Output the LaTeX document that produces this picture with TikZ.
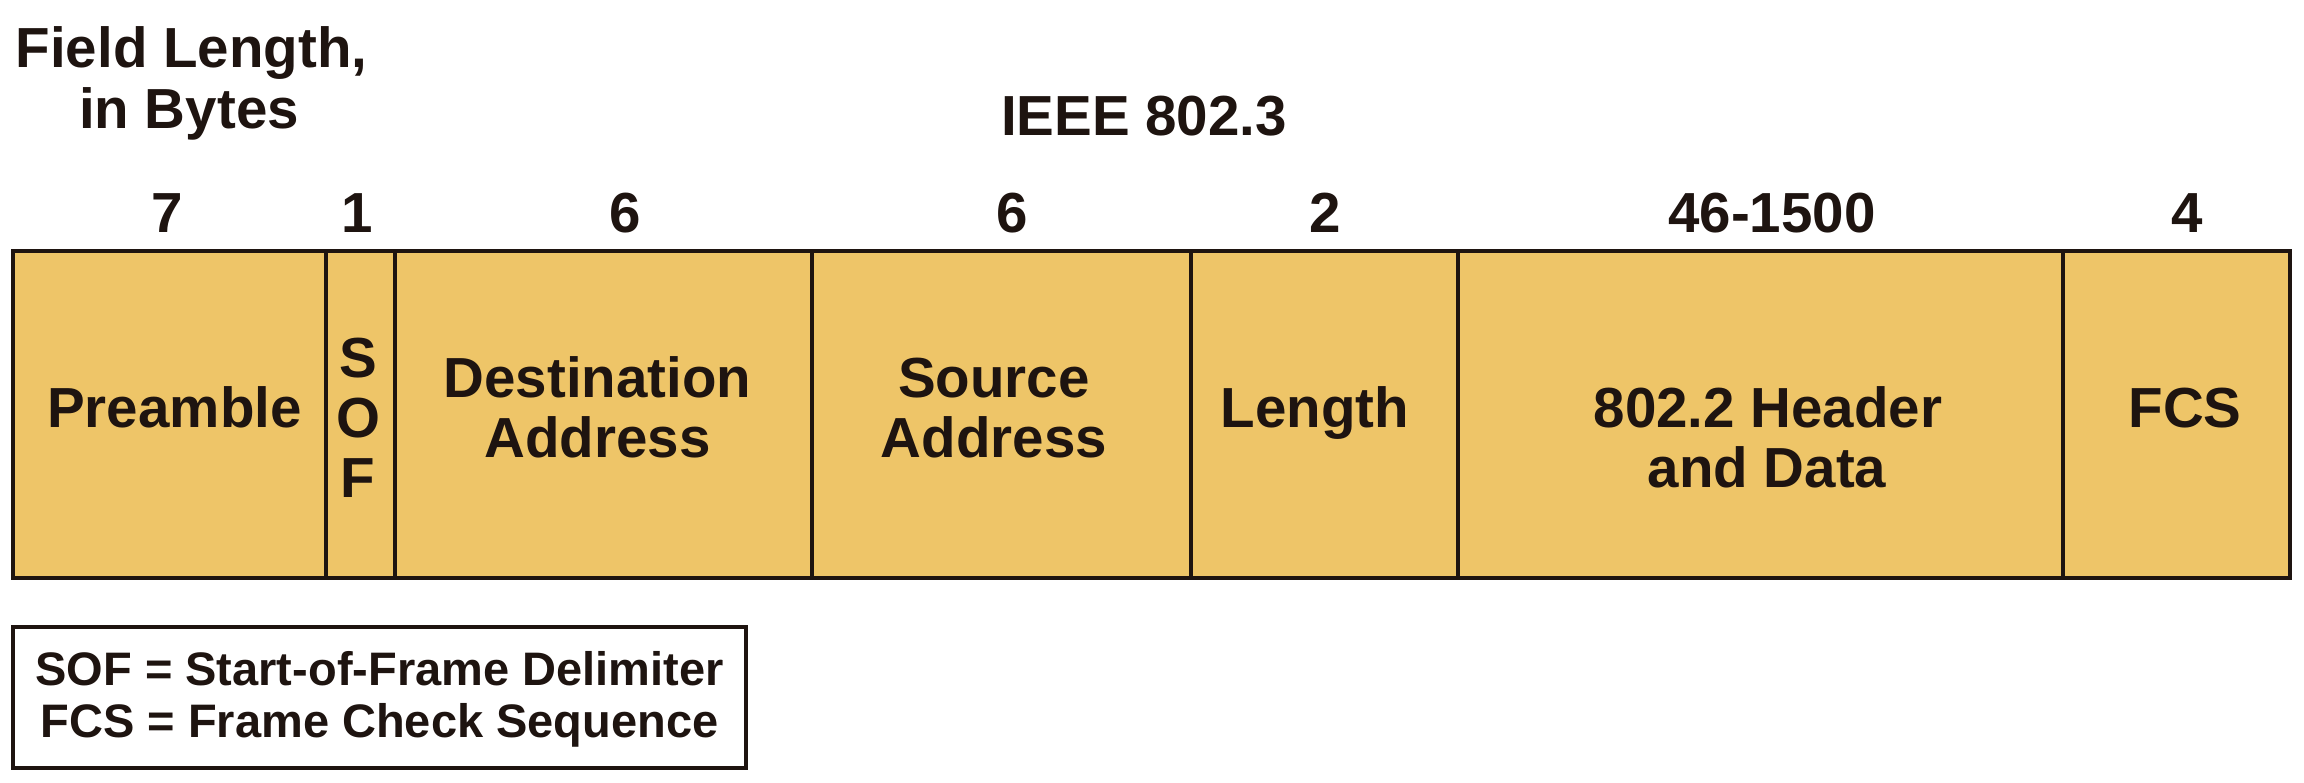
\documentclass[tikz,border=0pt]{standalone}
\usepackage{fontspec}
\setmainfont{Liberation Sans}
\definecolor{fieldfill}{RGB}{238,197,104}
\definecolor{ink}{RGB}{30,20,16}
\tikzset{
  field/.style={draw=ink, fill=fieldfill, line width=4.5pt, inner sep=0pt,
    minimum height=327pt},
  lab/.style={inner sep=0pt, anchor=base, text=ink,
    font=\bfseries\fontsize{56.5}{60}\selectfont},
  leglab/.style={inner sep=0pt, anchor=base, text=ink,
    font=\bfseries\fontsize{47}{52}\selectfont},
  legbox/.style={draw=ink, fill=white, line width=4pt, inner sep=0pt}
}
\begin{document}
\begin{tikzpicture}[x=1pt,y=-1pt]
\useasboundingbox (0,0) rectangle (2304,782);
\fill[white] (0,0) rectangle (2304,782);

% frame fields
\node[field, minimum width=313pt] (pre) at (169.5,414.5) {};
\node[field, minimum width=69pt]  (sof) at (360.5,414.5) {};
\node[field, minimum width=417pt] (dst) at (603.5,414.5) {};
\node[field, minimum width=379pt] (src) at (1001.5,414.5) {};
\node[field, minimum width=267pt] (len) at (1324.5,414.5) {};
\node[field, minimum width=605pt] (dat) at (1760.5,414.5) {};
\node[field, minimum width=227pt] (fcs) at (2176.5,414.5) {};

% headings
\node[lab] (fl1) at (191.5,67) {Field Length,};
\node[lab] (fl2) at (189,128) {in Bytes};
\node[lab] (ieee) at (1144,135) {IEEE 802.3};

% byte counts
\node[lab] (n1) at (167,232) {7};
\node[lab] (n2) at (357,232) {1};
\node[lab] (n3) at (625,232) {6};
\node[lab] (n4) at (1012,232) {6};
\node[lab] (n5) at (1325,232) {2};
\node[lab] (n6) at (1772,232) {46-1500};
\node[lab] (n7) at (2187,232) {4};

% field labels
\node[lab] (tpre) at (174.5,427) {Preamble};
\node[lab] (ts) at (358,377) {S};
\node[lab] (to) at (358,437) {O};
\node[lab] (tf) at (358,497) {F};
\node[lab] (tdst1) at (597.5,397) {Destination};
\node[lab] (tdst2) at (597.5,457) {Address};
\node[lab] (tsrc1) at (994,397) {Source};
\node[lab] (tsrc2) at (994,457) {Address};
\node[lab] (tlen) at (1315,427) {Length};
\node[lab] (tdat1) at (1768,427) {802.2 Header};
\node[lab] (tdat2) at (1767,487) {and Data};
\node[lab] (tfcs) at (2185,427) {FCS};

% legend
\node[legbox, minimum width=733pt, minimum height=141pt] (leg) at (379.5,697.5) {};
\node[leglab] (leg1) at (379.5,685) {SOF = Start-of-Frame Delimiter};
\node[leglab] (leg2) at (379.5,737) {FCS = Frame Check Sequence};
\end{tikzpicture}
\end{document}
